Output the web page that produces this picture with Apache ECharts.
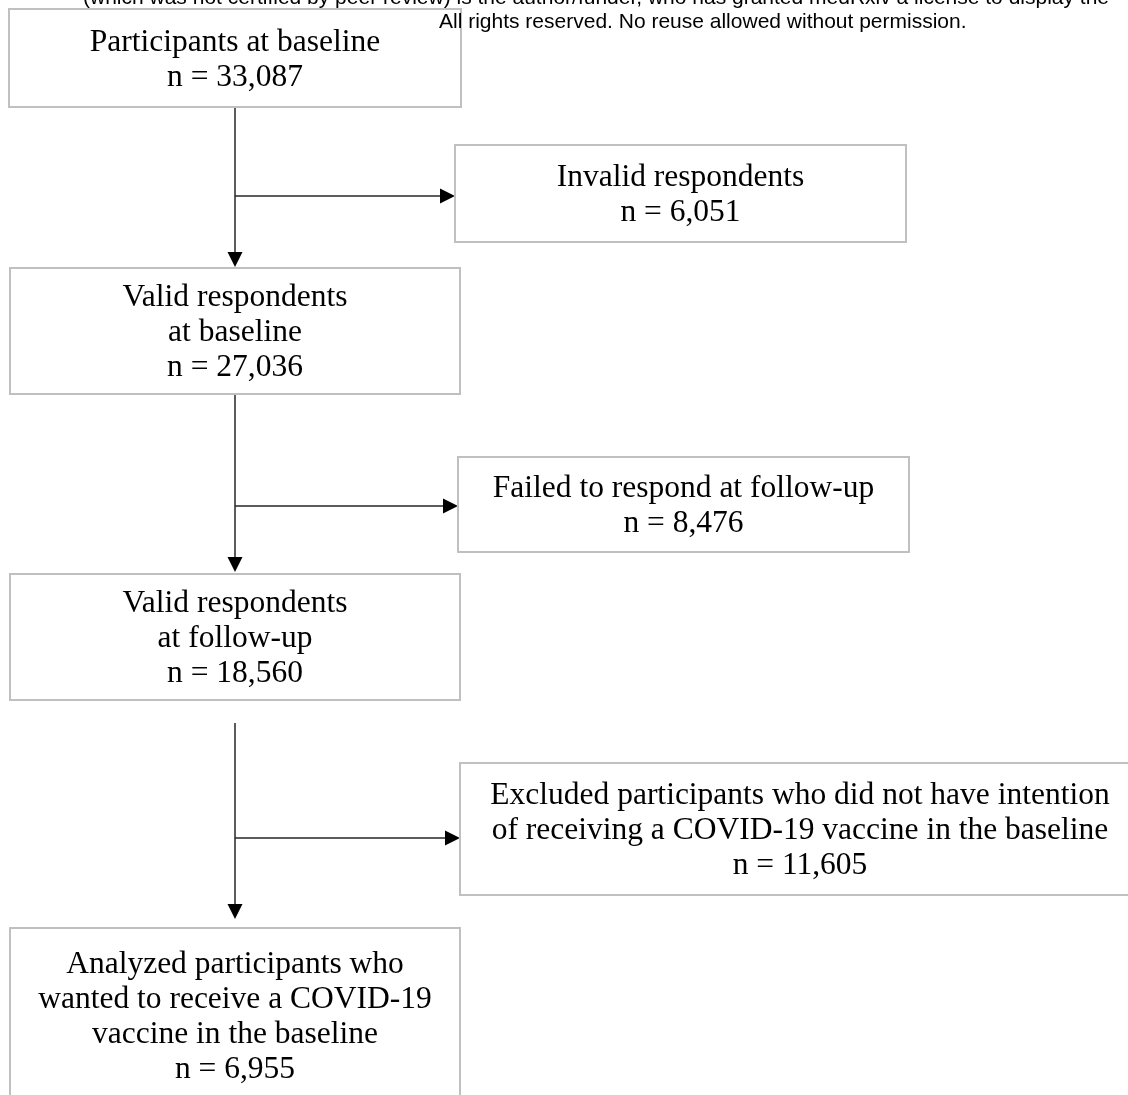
<!DOCTYPE html>
<html>
<head>
<meta charset="utf-8">
<script src="https://cdn.jsdelivr.net/npm/echarts@6/dist/echarts.min.js"></script>
<style>
  html, body { margin: 0; padding: 0; background: #fff; }
  #chart { width: 1128px; height: 1095px; }
</style>
</head>
<body>
<div id="chart"></div>
<script>
// flow stages (left column) and exclusions (right column)
const stageTitles = [
  "Participants at baseline",
  "Valid respondents\nat baseline",
  "Valid respondents\nat follow-up",
  "Analyzed participants who\nwanted to receive a COVID-19\nvaccine in the baseline"
];
const stageCounts = [33087, 27036, 18560, 6955];

const exclusionTitles = [
  "Invalid respondents",
  "Failed to respond at follow-up",
  "Excluded participants who did not have intention\nof receiving a COVID-19 vaccine in the baseline"
];
const exclusionCounts = [6051, 8476, 11605];

const watermarkLines = [
  "(which was not certified by peer review) is the author/funder, who has granted medRxiv a license to display the",
  "All rights reserved. No reuse allowed without permission."
];

// layout (page pixels, through hidden value axes)
const trunkX = 235;
const stageBoxes = [[9, 9, 461, 107], [10, 268, 460, 394], [10, 574, 460, 700], [10, 928, 460, 1102]];
const exclusionBoxes = [[455, 145, 906, 242], [458, 457, 909, 552], [460, 763, 1140, 895]];
const trunkSegments = [[107, 267], [394, 572], [723, 919]];
const branchRows = [196, 506, 838];

const fmt = (n) => "n = " + n.toLocaleString("en-US");

const boxTexts = [];
const boxData = [];
stageTitles.forEach((t, i) => {
  boxTexts.push(t + "\n" + fmt(stageCounts[i]));
  boxData.push(stageBoxes[i]);
});
exclusionTitles.forEach((t, i) => {
  boxTexts.push(t + "\n" + fmt(exclusionCounts[i]));
  boxData.push(exclusionBoxes[i]);
});

// arrows: [x0, y0, x1, y1]
const arrowData = [];
trunkSegments.forEach((s) => arrowData.push([trunkX, s[0], trunkX, s[1]]));
branchRows.forEach((y, i) => arrowData.push([trunkX, y, exclusionBoxes[i][0], y]));

const chart = echarts.init(document.getElementById("chart"));

const option = {
  backgroundColor: "#fff",
  animation: false,
  grid: { left: 0, right: 0, top: 0, bottom: 0 },
  xAxis: { type: "value", min: 0, max: 1128, show: false },
  yAxis: { type: "value", min: 0, max: 1095, inverse: true, show: false },
  // watermark sits on top of the boxes
  graphic: [
    {
      type: "text",
      left: 83,
      top: -12,
      z: 100,
      style: { text: watermarkLines[0], font: '21px "Liberation Sans"', fill: "#000" }
    },
    {
      type: "text",
      left: 439,
      top: 12,
      z: 100,
      style: { text: watermarkLines[1], font: '21px "Liberation Sans"', fill: "#000" }
    }
  ],
  series: [
    {
      type: "custom",
      name: "arrows",
      data: arrowData,
      renderItem: function (params, api) {
        const a = api.coord([api.value(0), api.value(1)]);
        const b = api.coord([api.value(2), api.value(3)]);
        const vertical = Math.abs(a[0] - b[0]) < 1;
        const headLen = 15, headHalf = 7.5;
        let lineEnd, head;
        if (vertical) {
          lineEnd = [b[0], b[1] - headLen];
          head = [[b[0], b[1]], [b[0] - headHalf, b[1] - headLen], [b[0] + headHalf, b[1] - headLen]];
        } else {
          lineEnd = [b[0] - headLen, b[1]];
          head = [[b[0], b[1]], [b[0] - headLen, b[1] - headHalf], [b[0] - headLen, b[1] + headHalf]];
        }
        return {
          type: "group",
          children: [
            {
              type: "line",
              shape: { x1: a[0], y1: a[1], x2: lineEnd[0], y2: lineEnd[1] },
              style: { stroke: "#262626", lineWidth: 1.5 }
            },
            { type: "polygon", shape: { points: head }, style: { fill: "#000" } }
          ]
        };
      },
      z: 1
    },
    {
      type: "custom",
      name: "boxes",
      data: boxData,
      renderItem: function (params, api) {
        const p0 = api.coord([api.value(0), api.value(1)]);
        const p1 = api.coord([api.value(2), api.value(3)]);
        return {
          type: "group",
          children: [
            {
              type: "rect",
              shape: { x: p0[0], y: p0[1], width: p1[0] - p0[0], height: p1[1] - p0[1] },
              style: { fill: "#fff", stroke: "#c0c0c0", lineWidth: 2 }
            },
            {
              type: "text",
              style: {
                text: boxTexts[params.dataIndex],
                x: (p0[0] + p1[0]) / 2,
                y: (p0[1] + p1[1]) / 2 + 2,
                align: "center",
                verticalAlign: "middle",
                font: '31.5px "Liberation Serif"',
                lineHeight: 35,
                fill: "#000"
              }
            }
          ]
        };
      },
      z: 2
    }
  ]
};

chart.setOption(option);
</script>
</body>
</html>
